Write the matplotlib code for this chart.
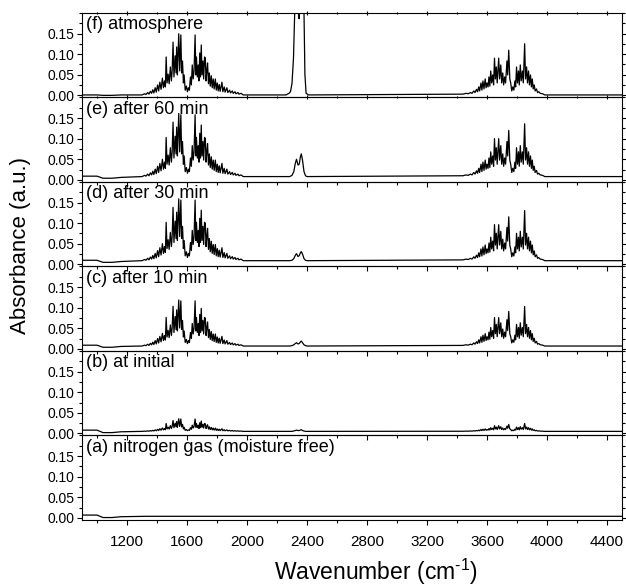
import numpy as np
import matplotlib
matplotlib.use("Agg")
import matplotlib.pyplot as plt
from matplotlib.ticker import MultipleLocator, FormatStrFormatter

plt.rcParams['font.family'] = ['Liberation Sans', 'DejaVu Sans']
plt.rcParams['mathtext.fontset'] = 'custom'
plt.rcParams['mathtext.rm'] = 'Liberation Sans'
plt.rcParams['mathtext.it'] = 'Liberation Sans:italic'

# paneles de arriba hacia abajo
labels = ["(f) atmosphere", "(e) after 60 min", "(d) after 30 min",
          "(c) after 10 min", "(b) at initial", "(a) nitrogen gas (moisture free)"]

# banda de flexion del agua (cm-1, absorbancia sobre la linea base, panel e)
bend_wn = [1300, 1318, 1326, 1338, 1346, 1356, 1364, 1372, 1379, 1388, 1395, 1404, 1411,
           1419, 1427, 1436, 1443, 1450, 1456, 1461, 1467, 1474, 1481, 1489, 1496, 1501,
           1507, 1513, 1521, 1527, 1531, 1536, 1540, 1545, 1551, 1559, 1564, 1570, 1576,
           1581, 1588, 1596, 1603, 1610, 1616, 1623, 1629, 1635, 1641, 1647, 1654, 1659,
           1663, 1669, 1675, 1680, 1685, 1690, 1695, 1700, 1706, 1711, 1717, 1722, 1727,
           1732, 1737, 1743, 1749, 1755, 1762, 1768, 1775, 1781, 1789, 1795, 1802, 1808,
           1815, 1821, 1833, 1839, 1848, 1854, 1866, 1872, 1884, 1890, 1902, 1908, 1920,
           1926, 1940, 1946, 1960, 1975]
bend_abs = [0.000, 0.003, 0.001, 0.006, 0.002, 0.009, 0.004, 0.013, 0.005, 0.018, 0.007,
            0.025, 0.010, 0.032, 0.014, 0.042, 0.018, 0.035, 0.020, 0.095, 0.030, 0.052,
            0.028, 0.070, 0.035, 0.060, 0.132, 0.045, 0.098, 0.055, 0.120, 0.050, 0.100,
            0.153, 0.060, 0.150, 0.055, 0.085, 0.030, 0.050, 0.012, 0.022, 0.008, 0.018,
            0.012, 0.045, 0.025, 0.075, 0.040, 0.060, 0.150, 0.050, 0.095, 0.045, 0.075,
            0.035, 0.105, 0.045, 0.125, 0.050, 0.085, 0.040, 0.095, 0.092, 0.035, 0.060,
            0.080, 0.028, 0.055, 0.022, 0.048, 0.018, 0.040, 0.015, 0.040, 0.012, 0.030,
            0.010, 0.026, 0.009, 0.032, 0.008, 0.020, 0.007, 0.018, 0.006, 0.012, 0.005,
            0.010, 0.004, 0.008, 0.003, 0.006, 0.002, 0.004, 0.000]

# banda de estiramiento del agua (panel e)
stretch_wn = [3440, 3460, 3475, 3490, 3500, 3512, 3520, 3530, 3537, 3545, 3551, 3560, 3566,
              3573, 3580, 3588, 3594, 3600, 3607, 3613, 3619, 3625, 3631, 3638, 3644, 3650,
              3656, 3662, 3668, 3678, 3684, 3692, 3698, 3705, 3711, 3718, 3724, 3733, 3738,
              3745, 3752, 3758, 3765, 3772, 3779, 3786, 3791, 3797, 3803, 3810, 3815, 3822,
              3828, 3836, 3842, 3851, 3857, 3864, 3870, 3877, 3883, 3890, 3896, 3902, 3908,
              3915, 3921, 3930, 3937, 3945, 3955, 3970, 3985]
stretch_abs = [0.002, 0.004, 0.003, 0.006, 0.004, 0.010, 0.006, 0.014, 0.008, 0.020, 0.010,
               0.030, 0.012, 0.035, 0.015, 0.040, 0.018, 0.030, 0.020, 0.045, 0.022, 0.060,
               0.030, 0.050, 0.025, 0.092, 0.040, 0.070, 0.030, 0.092, 0.040, 0.075, 0.030,
               0.055, 0.025, 0.045, 0.030, 0.085, 0.050, 0.112, 0.040, 0.030, 0.010, 0.020,
               0.012, 0.035, 0.020, 0.070, 0.030, 0.060, 0.025, 0.075, 0.035, 0.060, 0.030,
               0.128, 0.040, 0.070, 0.030, 0.060, 0.025, 0.050, 0.020, 0.040, 0.015, 0.025,
               0.010, 0.015, 0.006, 0.008, 0.004, 0.003, 0.000]

# CO2 (paneles e..a) sobre la linea base
co2_wn = [2285, 2300, 2312, 2322, 2330, 2340, 2348, 2356, 2362, 2370, 2380, 2390, 2400]
co2_e = [0, 0.003, 0.012, 0.032, 0.042, 0.028, 0.030, 0.048, 0.055, 0.040, 0.012, 0.002, 0]
co2_d = [0, 0.001, 0.005, 0.013, 0.017, 0.010, 0.012, 0.019, 0.022, 0.016, 0.005, 0.001, 0]
co2_c = [0, 0.001, 0.003, 0.006, 0.008, 0.005, 0.006, 0.010, 0.012, 0.008, 0.003, 0.001, 0]
co2_b = [0, 0, 0.001, 0.002, 0.003, 0.002, 0.002, 0.003, 0.004, 0.002, 0.001, 0, 0]
co2_a = [0, 0, 0, 0, 0, 0, 0, 0, 0, 0, 0, 0, 0]
# CO2 en la atmosfera (saturado, se corta arriba)
co2_f_wn = [2260, 2280, 2290, 2300, 2310, 2318, 2325, 2340, 2347, 2352, 2360, 2372, 2380,
            2386, 2394, 2410]
co2_f = [0.0, 0.004, 0.008, 0.028, 0.09, 0.2, 0.5, 0.6, 0.185, 0.5, 0.6, 0.5, 0.2, 0.05,
         0.004, 0.0]

# linea base a la izquierda (900-1300)
pre_wn = [900, 1000, 1040, 1100, 1160, 1300]
pre_f = [0.001, 0.001, 0.000, 0.000, 0.001, 0.001]
pre_e = [0.009, 0.009, 0.004, 0.004, 0.006, 0.008]
pre_d = [0.010, 0.010, 0.005, 0.005, 0.007, 0.009]
pre_c = [0.009, 0.009, 0.004, 0.004, 0.006, 0.007]
pre_b = [0.008, 0.008, 0.002, 0.002, 0.004, 0.005]
pre_a = [0.007, 0.007, 0.001, 0.001, 0.003, 0.004]

offsets = [0.001, 0.008, 0.009, 0.007, 0.005, 0.004]
bend_scale = [0.97, 1.0, 0.98, 0.73, 0.20, 0.0]
stretch_scale = [0.97, 1.0, 0.95, 0.75, 0.15, 0.0]
pre_list = [pre_f, pre_e, pre_d, pre_c, pre_b, pre_a]
co2_list = [co2_f, co2_e, co2_d, co2_c, co2_b, co2_a]

fig, axes = plt.subplots(6, 1, sharex=True, figsize=(6.26, 5.86), dpi=100)
fig.subplots_adjust(left=0.131, right=0.9936, top=0.978, bottom=0.1126, hspace=0)

for i, ax in enumerate(axes):
    off = offsets[i]
    # se arma la traza del panel
    if i == 0:
        cx, cy = co2_f_wn, co2_f
    else:
        cx, cy = co2_wn, co2_list[i]
    x = np.concatenate([pre_wn, bend_wn, cx, stretch_wn, [4500]])
    y = np.concatenate([pre_list[i],
                        off + bend_scale[i] * np.array(bend_abs),
                        off + np.array(cy),
                        off + stretch_scale[i] * np.array(stretch_abs),
                        [off]])
    ax.plot(x, y, color='black', lw=0.9)

    ax.set_xlim(900, 4500)
    ax.set_ylim(-0.005, 0.2)
    ax.patch.set_visible(False)
    for sp in ax.spines.values():
        sp.set_linewidth(0.8)

    ax.yaxis.set_minor_locator(MultipleLocator(0.025))
    ax.yaxis.set_major_formatter(FormatStrFormatter('%.2f'))
    ax.set_yticks([0, 0.05, 0.10, 0.15])
    ax.xaxis.set_major_locator(MultipleLocator(400))
    ax.xaxis.set_minor_locator(MultipleLocator(200))

    ax.tick_params(axis='y', which='both', direction='out', left=True, right=True,
                   labelright=False, labelsize=10, pad=2, width=0.8)
    ax.tick_params(axis='y', which='major', length=3.5)
    ax.tick_params(axis='y', which='minor', length=2)
    ax.tick_params(axis='x', which='both', direction='out', top=False,
                   labelbottom=(i == 5), labelsize=11, pad=7, width=0.8)
    ax.tick_params(axis='x', which='major', length=3.5)
    ax.tick_params(axis='x', which='minor', length=2)

    ax.text(0.007, 0.86, labels[i], transform=ax.transAxes, fontsize=13,
            ha='left', va='center')

axes[0].tick_params(axis='x', which='both', top=True, direction='inout')

fig.text(20.7 / 626, 1 - 245 / 586, "Absorbance (a.u.)", rotation=90,
         fontsize=16, ha='center', va='center')
fig.text(376 / 626, 1 - 572 / 586, "Wavenumber (cm$^{\u20101}$)", fontsize=16.5,
         ha='center', va='center')

fig.savefig("out.png", dpi=100)
